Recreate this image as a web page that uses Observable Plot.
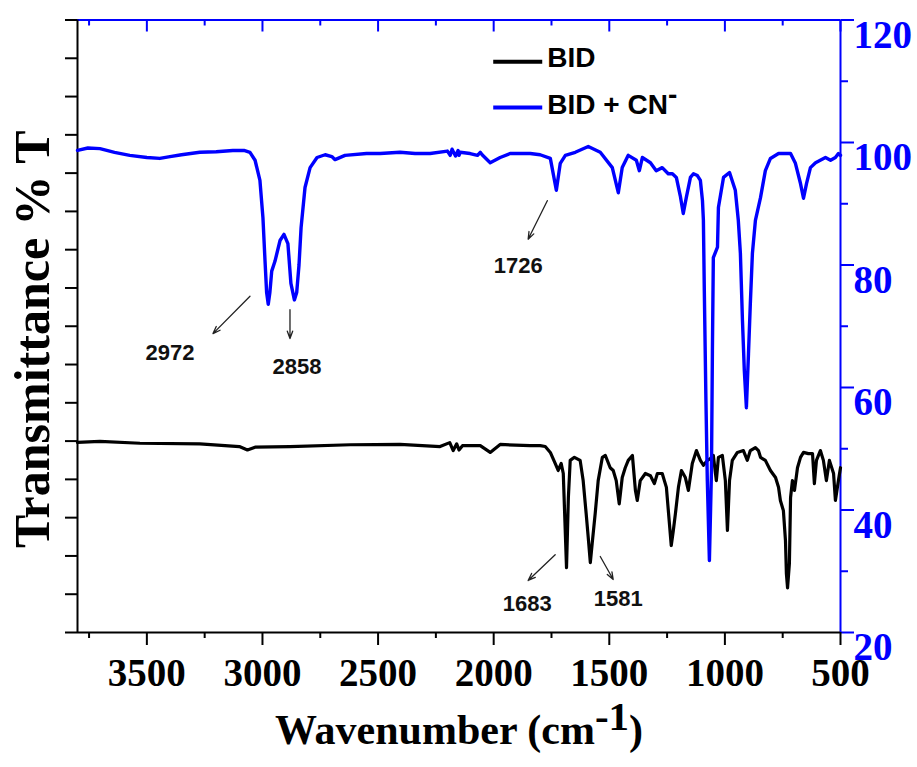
<!DOCTYPE html>
<html>
<head>
<meta charset="utf-8">
<script src="https://cdn.jsdelivr.net/npm/d3@7"></script>
<script src="https://cdn.jsdelivr.net/npm/@observablehq/plot@0.6"></script>
<style>
html,body{margin:0;padding:0;background:#fff;}
#chart svg{display:block;}
</style>
</head>
<body>
<div id="chart"></div>
<script>
// ---- data: [wavenumber (cm-1), transmittance %T] ----
const bidSpectrum = [[3800,51.05],[3703,51.2],[3530,50.9],[3271,50.8],[3100,50.36],[3065,49.8],[3032,50.25],[2881,50.36],[2620,50.65],[2405,50.7],[2232,50.36],[2190,51.0],[2175,49.7],[2160,50.8],[2150,49.8],[2135,50.5],[2058,50.5],[2015,49.4],[1972,50.7],[1842,50.5],[1799,50.5],[1777,50.36],[1755,49.4],[1734,47.6],[1721,46.45],[1708,47.6],[1699,45.96],[1685,30.6],[1677,42.0],[1669,48.1],[1651,48.6],[1626,48.1],[1613,44.8],[1600,39.4],[1591,35.5],[1582,31.4],[1574,34.5],[1561,39.4],[1548,44.8],[1530,48.6],[1517,48.9],[1496,46.9],[1483,46.45],[1470,44.8],[1457,41.0],[1444,45.3],[1431,46.9],[1418,48.1],[1400,48.9],[1387,43.2],[1379,41.55],[1366,44.8],[1344,45.96],[1322,45.6],[1305,44.3],[1292,45.96],[1271,45.96],[1253,43.7],[1240,37.8],[1232,34.2],[1223,36.65],[1214,39.4],[1201,43.7],[1188,46.45],[1171,45.3],[1158,43.2],[1141,47.6],[1123,49.7],[1106,48.1],[1093,47.3],[1076,48.1],[1063,48.4],[1050,48.9],[1037,44.8],[1028,48.6],[1011,48.9],[998,44.8],[989,36.65],[980,44.8],[968,48.1],[946,49.4],[920,49.7],[903,48.1],[890,49.7],[868,50.2],[855,49.7],[846,48.6],[825,48.1],[803,46.45],[781,45.3],[768,43.7],[760,41.55],[747,39.9],[738,35.0],[734,29.6],[729,27.3],[721,31.3],[716,42.0],[708,44.8],[699,43.2],[686,46.9],[673,48.6],[660,49.4],[639,49.2],[621,49.2],[613,44.3],[604,48.1],[587,49.7],[574,48.1],[561,44.8],[548,48.1],[530,45.96],[522,41.55],[509,44.8],[500,46.9]];

const bidCnSpectrum = [[3800,98.7],[3755,99.1],[3703,99.0],[3640,98.4],[3574,97.9],[3500,97.55],[3444,97.4],[3400,97.7],[3350,98.0],[3271,98.4],[3200,98.5],[3128,98.7],[3080,98.7],[3054,98.4],[3032,97.1],[3011,93.8],[2998,87.75],[2989,80.7],[2982,75.5],[2975,73.6],[2968,75.5],[2960,79.0],[2946,80.6],[2924,84.0],[2907,85.0],[2890,83.5],[2877,77.0],[2862,74.3],[2852,75.5],[2842,80.0],[2833,86.1],[2816,92.65],[2794,95.9],[2764,97.55],[2729,98.0],[2700,97.7],[2686,97.2],[2643,97.9],[2550,98.2],[2491,98.2],[2405,98.4],[2340,98.2],[2275,98.2],[2200,98.6],[2188,97.9],[2180,98.9],[2165,97.8],[2154,98.7],[2150,97.9],[2145,98.4],[2102,98.2],[2070,97.9],[2058,98.4],[2050,98.0],[2015,96.7],[1972,97.55],[1929,98.2],[1842,98.2],[1799,98.0],[1755,97.4],[1729,92.2],[1712,96.6],[1690,97.9],[1647,98.4],[1591,99.35],[1539,98.4],[1487,95.9],[1461,91.8],[1444,95.9],[1418,97.9],[1383,97.1],[1370,95.4],[1357,97.55],[1322,96.7],[1297,95.4],[1271,95.9],[1245,94.9],[1227,94.9],[1210,94.3],[1193,91.3],[1180,88.4],[1167,91.0],[1149,94.3],[1136,94.9],[1119,94.6],[1106,93.8],[1097,90.5],[1093,87.3],[1089,75.8],[1082,57.9],[1076,44.8],[1067,31.75],[1058,46.5],[1054,66.0],[1050,81.2],[1032,82.9],[1028,89.4],[1006,94.3],[980,95.1],[955,92.2],[942,87.3],[933,81.9],[924,70.9],[916,62.8],[907,56.7],[898,65.5],[890,73.7],[881,81.9],[868,87.3],[846,91.0],[825,95.4],[803,97.4],[768,98.2],[716,98.2],[695,96.6],[673,93.3],[660,90.9],[647,93.3],[630,95.9],[608,96.7],[565,97.55],[543,97.1],[522,97.55],[509,98.2],[500,97.9]];

const seriesNames = ["BID", "BID + CN-"];
const xMajorTicks = [3500, 3000, 2500, 2000, 1500, 1000, 500];
const xMinorTicks = [3750, 3250, 2750, 2250, 1750, 1250, 750];
const yMajorTicks = [20, 40, 60, 80, 100, 120];
const yMinorTicks = [30, 50, 70, 90, 110];
const leftTicks = d3.range(0, 17).map(k => 20 + k * 6.25);

// peak annotations (label position and arrow, in data units)
const peakLabels = [
  {text: "2972", x: 3400, y: 65.7},
  {text: "2858", x: 2851, y: 63.4},
  {text: "1726", x: 1894, y: 79.9},
  {text: "1683", x: 1855, y: 24.7},
  {text: "1581", x: 1461, y: 25.55}
];
const peakArrows = [
  {x1: 3054, y1: 74.9, x2: 3214, y2: 68.8},
  {x1: 2881, y1: 72.7, x2: 2881, y2: 68.0},
  {x1: 1768, y1: 90.5, x2: 1851, y2: 84.2},
  {x1: 1734, y1: 32.7, x2: 1851, y2: 28.5},
  {x1: 1539, y1: 32.4, x2: 1483, y2: 28.65}
];
// legend rows (data units)
const legendLineX = [2002, 1790];
const legendTextX = 1768;
const legendLineY = [113.2, 105.7];
const legendTextY = [113.8, 106.1];

const BLUE = "#0000ff";
const SERIF = "'Liberation Serif','Times New Roman',serif";
const SANS = "'Liberation Sans',Arial,sans-serif";

const bid = bidSpectrum.map(([w, t]) => ({w, t}));
const bidCn = bidCnSpectrum.map(([w, t]) => ({w, t}));

const plot = Plot.plot({
  width: 917,
  height: 767,
  marginLeft: 77,
  marginRight: 77,
  marginTop: 19.5,
  marginBottom: 135,
  style: {background: "#fff", fontFamily: SERIF},
  x: {domain: [3800, 500], axis: null},
  y: {domain: [20, 120], axis: null},
  marks: [
    // left axis ticks (no labels)
    Plot.axisY(leftTicks, {anchor: "left", tickSize: 12, strokeWidth: 2, stroke: "#000", tickFormat: () => "", label: null}),
    // right axis ticks
    Plot.axisY(yMinorTicks, {anchor: "right", tickSize: 7, strokeWidth: 2, stroke: BLUE, tickFormat: () => "", label: null}),
    Plot.axisY(yMajorTicks, {anchor: "right", tickSize: 13, strokeWidth: 2, stroke: BLUE, tickFormat: () => "", label: null}),
    // bottom axis ticks
    Plot.axisX(xMinorTicks, {anchor: "bottom", tickSize: 6, strokeWidth: 2, stroke: "#000", tickFormat: () => "", label: null}),
    Plot.axisX(xMajorTicks, {anchor: "bottom", tickSize: 13, strokeWidth: 2, stroke: "#000", tickFormat: () => "", label: null}),
    // tick labels (through the scales)
    Plot.text(yMajorTicks, {y: d => d, text: d => String(d), frameAnchor: "right", textAnchor: "start", lineAnchor: "top",
      dx: 13, fill: BLUE, fontSize: 39, fontWeight: "bold", fontFamily: SERIF}),
    Plot.text(xMajorTicks, {x: d => d, text: d => String(d), frameAnchor: "bottom", textAnchor: "middle", lineAnchor: "top",
      dy: 26, fill: "#000", fontSize: 39, fontWeight: "bold", fontFamily: SERIF}),
    // top axis inward ticks
    Plot.ruleX(xMajorTicks, {stroke: BLUE, strokeWidth: 2, insetBottom: 600.5}),
    Plot.ruleX(xMinorTicks, {stroke: BLUE, strokeWidth: 2, insetBottom: 606.5}),
    // axis lines
    Plot.ruleY([120], {stroke: BLUE, strokeWidth: 2}),
    Plot.ruleX([500], {stroke: BLUE, strokeWidth: 2}),
    Plot.ruleY([20], {stroke: "#000", strokeWidth: 2}),
    Plot.ruleX([3800], {stroke: "#000", strokeWidth: 2}),
    // spectra
    Plot.line(bid, {x: "w", y: "t", stroke: "#000", strokeWidth: 3.2, strokeLinejoin: "round"}),
    Plot.line(bidCn, {x: "w", y: "t", stroke: BLUE, strokeWidth: 3.4, strokeLinejoin: "round"}),
    // annotations
    Plot.arrow(peakArrows, {x1: "x1", y1: "y1", x2: "x2", y2: "y2", stroke: "#222", strokeWidth: 1.3, headLength: 9, headAngle: 40}),
    Plot.text(peakLabels, {x: "x", y: "y", text: "text", fontSize: 22, fontWeight: "bold", fontFamily: SANS, fill: "#111"}),
    // legend
    Plot.link([0], {x1: legendLineX[0], x2: legendLineX[1], y1: legendLineY[0], y2: legendLineY[0], stroke: "#000", strokeWidth: 4}),
    Plot.link([0], {x1: legendLineX[0], x2: legendLineX[1], y1: legendLineY[1], y2: legendLineY[1], stroke: BLUE, strokeWidth: 4}),
    Plot.text([seriesNames[0]], {x: legendTextX, y: legendTextY[0], text: d => d, textAnchor: "start", fontSize: 28, fontWeight: "bold", fontFamily: SANS, fill: "#000"}),
    Plot.text([seriesNames[1]], {x: legendTextX, y: legendTextY[1], text: d => d, textAnchor: "start", fontSize: 28, fontWeight: "bold", fontFamily: SANS, fill: "#000"}),
    // axis titles
    Plot.text(["Transmittance % T"], {frameAnchor: "left", textAnchor: "middle", dx: -45, dy: 13, rotate: -90, text: d => d, fontSize: 50, fontWeight: "bold", fontFamily: SERIF, fill: "#000"}),
    Plot.text(["Wavenumber (cm-1)"], {frameAnchor: "bottom", dy: 111, text: d => d, fontSize: 42, fontWeight: "bold", fontFamily: SERIF, fill: "#000"})
  ]
});

document.getElementById("chart").appendChild(plot);

// superscripts
const NS = "http://www.w3.org/2000/svg";
function superscript(el, base, sup, after, shift, supSize) {
  el.textContent = "";
  el.appendChild(document.createTextNode(base));
  const s = document.createElementNS(NS, "tspan");
  s.setAttribute("dy", -shift);
  if (supSize) s.setAttribute("font-size", supSize);
  s.textContent = sup;
  el.appendChild(s);
  if (after) {
    const a = document.createElementNS(NS, "tspan");
    a.setAttribute("dy", shift);
    a.textContent = after;
    el.appendChild(a);
  }
}
plot.querySelectorAll("text").forEach(t => {
  if (t.textContent === "Wavenumber (cm-1)") superscript(t, "Wavenumber (cm", "-1", ")", 14, 41);
  else if (t.textContent === "BID + CN-") superscript(t, "BID + CN", "-", null, 10, null);
});
</script>
</body>
</html>
